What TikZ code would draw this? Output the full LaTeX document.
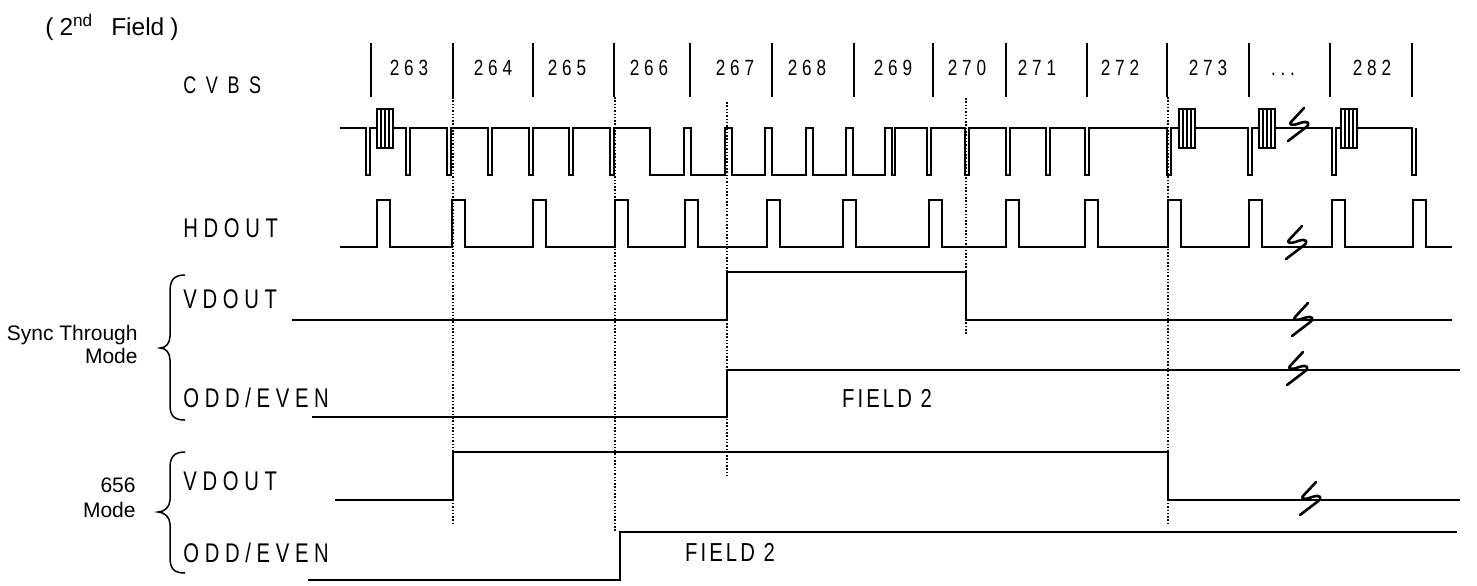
\documentclass[tikz,border=0pt]{standalone}
\usepackage{fontspec}
\setmainfont{Liberation Sans}
\newfontfamily\sigfont[FakeStretch=0.75,LetterSpace=21]{Liberation Sans}
\newfontfamily\numfont[FakeStretch=0.78,LetterSpace=22]{Liberation Sans}
\newfontfamily\cvbsfont[FakeStretch=0.75,LetterSpace=40]{Liberation Sans}
\newfontfamily\fldfont[FakeStretch=0.78,LetterSpace=12]{Liberation Sans}
\begin{document}
\begin{tikzpicture}[x=0.5pt,y=-0.5pt,
  sig/.style={line width=1pt},
  cvbs/.style={line width=0.65pt},
  burst/.style={line width=0.75pt},
  sepline/.style={line width=1pt},
  guide/.style={line width=0.75pt,dash pattern=on 0.75pt off 0.9pt},
  bracepath/.style={line width=0.75pt},
  lbl/.style={font=\sigfont\fontsize{13.5}{15}\selectfont,inner sep=0,anchor=base west},
  num/.style={font=\numfont\fontsize{11}{13}\selectfont,inner sep=0,anchor=base},
  fld/.style={font=\fldfont\fontsize{13}{15}\selectfont,inner sep=0,anchor=base},
  modelbl/.style={font=\fontsize{10.5}{12}\selectfont,inner sep=0,anchor=base east},
  brk/.pic={\draw[line width=1.3pt,line join=round,line cap=round]
     (6,-17) -- (-7,-3) .. controls (-10,0) and (-5,1) .. (2,-2)
     .. controls (11,-5) and (13,-1) .. (7,3) -- (-10,16);}
]
\useasboundingbox (0,0) rectangle (1477,585);

% title
\node[anchor=base west,inner sep=0,font=\fontsize{12.25}{14}\selectfont] (title) at (45,35)
  {(\hspace{3pt}2\textsuperscript{nd}\hspace{9pt}Field\hspace{3pt})};

% signal labels
\node[font=\cvbsfont\fontsize{12}{14}\selectfont,inner sep=0,anchor=base west] (cvbs) at (183,93) {CVBS};
\node[lbl] (hdout) at (183,237) {HDOUT};
\node[lbl] (vd1) at (183,308) {VDOUT};
\node[lbl] (oe1) at (183,407) {ODD/EVEN};
\node[lbl] (vd2) at (183,490) {VDOUT};
\node[lbl] (oe2) at (183,562) {ODD/EVEN};
\node[fld] (f1) at (887,407) {FIELD 2};
\node[fld] (f2) at (730,561) {FIELD 2};

% mode labels
\node[modelbl] (m1a) at (138,340) {Sync Through};
\node[modelbl] (m1b) at (138,363) {Mode};
\node[modelbl] (m2a) at (136,492) {656};
\node[modelbl] (m2b) at (136,517) {Mode};

% braces
\draw[bracepath] (185,275) .. controls (173,275) and (170,281) .. (170,292) -- (170,336)
  .. controls (170,343) and (166,348) .. (160,348) .. controls (166,348) and (170,353) .. (170,360)
  -- (170,404) .. controls (170,415) and (173,420) .. (185,420);
\draw[bracepath] (185,452) .. controls (173,452) and (170,458) .. (170,468) -- (170,500)
  .. controls (170,507) and (164,512) .. (158,512) .. controls (164,512) and (170,517) .. (170,524)
  -- (170,557) .. controls (170,568) and (173,573) .. (185,573);

% line separators and numbers
\foreach \s in {371,453,533,614,690,772,854,933,1006,1087,1167,1249,1330,1412}
  \draw[sepline] (\s,43) -- (\s,97);
\foreach \c/\t in {409/263,493/264,567/265,649/266,735/267,807/268,893/269,967/270,1037/271,1120/272,1208/273,1372/282}
  \node[num] at (\c,75) {\t};
\node[num] (dots) at (1283,75) {...};

% dotted guides
\draw[guide] (453,97) -- (453,525);
\draw[guide] (615,97) -- (615,532);
\draw[guide] (727,102) -- (727,475);
\draw[guide] (966,98) -- (966,335);
\draw[guide] (1168,97) -- (1168,525);

% CVBS
\draw[cvbs] (340,128)
  \foreach \p in {366,406,447,488,529,569,610} {-- (\p,128) -- (\p,175) -- (\p+4,175) -- (\p+4,128)}
  -- (650,128) -- (650,175)
  \foreach \s in {684,725,765,806,846,885} {-- (\s,175) -- (\s,128) -- (\s+7,128) -- (\s+7,175)}
  -- (895,175) -- (895,128)
  \foreach \p in {927,965,1006,1046,1085,1167,1248,1332,1412} {-- (\p,128) -- (\p,175) -- (\p+4,175) -- (\p+4,128)};
\foreach \b in {377,1179,1259,1341} {
  \draw[burst,fill=white] (\b,109) rectangle (\b+16,148);
  \foreach \k in {4,8,12} \draw[burst] (\b+\k,109) -- (\b+\k,148);
}
\pic at (1298,125) {brk};

% HDOUT
\draw[sig] (340,247)
  \foreach \p in {377,452,533,615,685,767,843,929,1006,1085,1168,1249,1332,1413}
  {-- (\p,247) -- (\p,200) -- (\p+13,200) -- (\p+13,247)} -- (1452,247);
\pic at (1296,243) {brk};

% Sync through mode
\draw[sig] (292,320) -- (727,320) -- (727,272) -- (966,272) -- (966,320) -- (1452,320);
\pic at (1302,320) {brk};
\draw[sig] (312,417) -- (727,417) -- (727,370) -- (1460,370);
\pic at (1297,369) {brk};

% 656 mode
\draw[sig] (335,500) -- (453,500) -- (453,452) -- (1168,452) -- (1168,500) -- (1460,500);
\pic at (1310,499) {brk};
\draw[sig] (308,580) -- (620,580) -- (620,532) -- (1457,532);
\end{tikzpicture}
\end{document}
